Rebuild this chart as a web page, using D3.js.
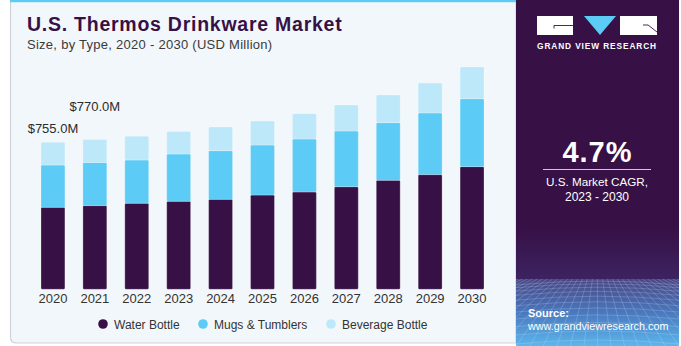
<!DOCTYPE html>
<html>
<head>
<meta charset="utf-8">
<script src="https://cdn.jsdelivr.net/npm/d3@7"></script>
<style>
  html, body { margin: 0; padding: 0; background: #ffffff; }
  svg { display: block; }
  text { font-family: "Liberation Sans", Arial, sans-serif; }
</style>
</head>
<body>
<svg id="chart" width="681" height="346"></svg>
<script>
// Market size by product type, USD million
const years = ["2020", "2021", "2022", "2023", "2024", "2025", "2026", "2027", "2028", "2029", "2030"];
const waterBottle     = [421, 430, 442, 452, 462, 484, 500, 527, 560, 589, 630];
const mugsTumblers    = [217, 221, 222, 243, 250, 257, 272, 286, 296, 317, 349];
const beverageBottle  = [117, 119, 122, 115, 122, 123, 130, 134, 142, 153, 163];
const seriesNames = ["Water Bottle", "Mugs & Tumblers", "Beverage Bottle"];
const seriesColors = ["#371146", "#5ccbf6", "#bde8f9"];
// Totals called out above the first two bars
const callouts = [{ year: "2020", text: "$755.0M", lift: 9 }, { year: "2021", text: "$770.0M", lift: 28 }];

const svg = d3.select("#chart");
const defs = svg.append("defs");

// ---- left card ----
const card = svg.append("g");
card.append("path")
  .attr("d", "M10.5,0 L10.5,337 Q10.5,343 16.5,343 L516,343 L516,0 Z")
  .attr("fill", "#f2f7fb")
  .attr("stroke", "#cfd3d7")
  .attr("stroke-width", 1.2);
card.append("rect").attr("x", 10).attr("y", 0).attr("width", 506).attr("height", 2.2).attr("fill", "#5ccbf6");

card.append("text")
  .attr("x", 27).attr("y", 31)
  .attr("font-size", 19.5).attr("font-weight", 900)
  .attr("letter-spacing", 0.75)
  .attr("fill", "#371146")
  .text("U.S. Thermos Drinkware Market");
card.append("text")
  .attr("x", 27).attr("y", 49)
  .attr("font-size", 13).attr("fill", "#3a3a3a")
  .attr("letter-spacing", 0.27)
  .text("Size, by Type, 2020 - 2030 (USD Million)");

// ---- stacked bars ----
const table = years.map((y, i) => ({
  year: y,
  "Water Bottle": waterBottle[i],
  "Mugs & Tumblers": mugsTumblers[i],
  "Beverage Bottle": beverageBottle[i]
}));
const stacked = d3.stack().keys(seriesNames)(table);

const x = d3.scaleBand().domain(years).range([32, 493]).paddingInner(0.43).paddingOuter(0.215);
const y = d3.scaleLinear().domain([0, 1000]).range([289.3, 94.6]);
const color = d3.scaleOrdinal().domain(seriesNames).range(seriesColors);

const barsG = svg.append("g");
barsG.selectAll("g.series")
  .data(stacked)
  .join("g")
  .attr("class", "series")
  .attr("fill", d => color(d.key))
  .selectAll("rect")
  .data(d => d)
  .join("rect")
  .attr("x", d => x(d.data.year))
  .attr("width", x.bandwidth())
  .attr("y", d => y(d[1]))
  .attr("height", d => y(d[0]) - y(d[1]))
  .attr("rx", 1.2)
  .attr("stroke", "#ffffff")
  .attr("stroke-opacity", 0.35)
  .attr("stroke-width", 0.7);

// year axis
const xAxis = svg.append("g")
  .attr("transform", "translate(0,290)")
  .call(d3.axisBottom(x).tickSize(0).tickPadding(4));
xAxis.select(".domain").remove();
xAxis.selectAll("text")
  .attr("font-size", 13)
  .attr("fill", "#333333")
  .attr("font-family", "\"Liberation Sans\", Arial, sans-serif");

// total callouts
const totals = years.map((yr, i) => waterBottle[i] + mugsTumblers[i] + beverageBottle[i]);
svg.append("g").selectAll("text")
  .data(callouts)
  .join("text")
  .attr("x", d => x(d.year) + x.bandwidth() / 2)
  .attr("y", d => y(totals[years.indexOf(d.year)]) - d.lift)
  .attr("text-anchor", "middle")
  .attr("font-size", 13)
  .attr("fill", "#2b2b2b")
  .text(d => d.text);

// legend
const legendX = [103, 203, 331];
const legend = svg.append("g").selectAll("g")
  .data(seriesNames)
  .join("g")
  .attr("transform", (d, i) => `translate(${legendX[i]},324)`);
legend.append("circle").attr("r", 4.8).attr("fill", d => color(d));
legend.append("text")
  .attr("x", 11).attr("y", 4.5)
  .attr("font-size", 12).attr("fill", "#333333")
  .text(d => d);

// ---- right panel ----
const panelX = 516, panelW = 163, horizon = 279;
const grad = defs.append("linearGradient").attr("id", "panelGrad").attr("x1", 0).attr("y1", 0).attr("x2", 0).attr("y2", 1);
grad.append("stop").attr("offset", "0").attr("stop-color", "#371146");
grad.append("stop").attr("offset", "0.66").attr("stop-color", "#371146");
grad.append("stop").attr("offset", "0.80").attr("stop-color", "#3c2260");
grad.append("stop").attr("offset", "1").attr("stop-color", "#3c2260");
const floorGrad = defs.append("linearGradient").attr("id", "floorGrad").attr("x1", 0).attr("y1", 0).attr("x2", 0).attr("y2", 1);
floorGrad.append("stop").attr("offset", "0").attr("stop-color", "#4a4684");
floorGrad.append("stop").attr("offset", "0.5").attr("stop-color", "#4a78bd");
floorGrad.append("stop").attr("offset", "1").attr("stop-color", "#5cb6ec");

const panel = svg.append("g");
panel.append("rect").attr("x", panelX).attr("y", 0).attr("width", panelW).attr("height", 346).attr("fill", "url(#panelGrad)");
panel.append("rect").attr("x", panelX).attr("y", horizon).attr("width", panelW).attr("height", 346 - horizon).attr("fill", "url(#floorGrad)");

// perspective grid on the floor
const clip = defs.append("clipPath").attr("id", "gridClip");
clip.append("rect").attr("x", panelX).attr("y", horizon).attr("width", panelW).attr("height", 346 - horizon);
const grid = panel.append("g").attr("clip-path", "url(#gridClip)")
  .attr("stroke", "#cfe6ff").attr("fill", "none").attr("stroke-width", 0.5).attr("stroke-opacity", 0.45);
d3.range(-16, 17).forEach(k => {
  grid.append("path").attr("d", `M${panelX + panelW / 2 + k * 5},${horizon} Q${panelX + panelW / 2 + k * 9},305 ${panelX + panelW / 2 + k * 14},350`);
});
d3.range(0, 13).forEach(k => {
  const yy = horizon + 2 + k * k * 0.35 + k * 2.4;
  grid.append("path").attr("d", `M${panelX},${yy + 4} Q${panelX + panelW / 2},${yy - 4} ${panelX + panelW},${yy + 4}`);
});

// logo
const logo = panel.append("g");
logo.append("rect").attr("x", 537).attr("y", 16).attr("width", 36).attr("height", 19).attr("fill", "#ffffff");
logo.append("path").attr("d", "M554,25.5 L573,25.5 M554,25.5 L554,28.5").attr("stroke", "#371146").attr("stroke-width", 0.9).attr("fill", "none");
logo.append("path").attr("d", "M584,16 L616,16 L600,35 Z").attr("fill", "#5ccbf6");
logo.append("rect").attr("x", 620).attr("y", 16).attr("width", 37).attr("height", 19).attr("fill", "#ffffff");
logo.append("path").attr("d", "M643,25 L648,25 L657,32").attr("stroke", "#371146").attr("stroke-width", 0.9).attr("fill", "none");
panel.append("text")
  .attr("x", 597).attr("y", 49)
  .attr("text-anchor", "middle")
  .attr("font-size", 8.3).attr("font-weight", 700)
  .attr("letter-spacing", 0.9)
  .attr("fill", "#ffffff")
  .text("GRAND VIEW RESEARCH");

// CAGR block
panel.append("text")
  .attr("x", 597.5).attr("y", 162)
  .attr("text-anchor", "middle")
  .attr("font-size", 29).attr("font-weight", 700)
  .attr("letter-spacing", 1)
  .attr("fill", "#ffffff")
  .text("4.7%");
panel.append("line")
  .attr("x1", 543).attr("x2", 651).attr("y1", 169.5).attr("y2", 169.5)
  .attr("stroke", "#cfc6d6").attr("stroke-width", 1);
panel.append("text")
  .attr("x", 597).attr("y", 186)
  .attr("text-anchor", "middle")
  .attr("font-size", 11.7).attr("fill", "#ffffff")
  .text("U.S. Market CAGR,");
panel.append("text")
  .attr("x", 597).attr("y", 201)
  .attr("text-anchor", "middle")
  .attr("font-size", 12).attr("fill", "#ffffff")
  .text("2023 - 2030");

// source
panel.append("text")
  .attr("x", 528).attr("y", 317)
  .attr("font-size", 11).attr("font-weight", 700)
  .attr("fill", "#ffffff")
  .text("Source:");
panel.append("text")
  .attr("x", 528).attr("y", 330)
  .attr("font-size", 10.8)
  .attr("fill", "#ffffff")
  .text("www.grandviewresearch.com");
</script>
</body>
</html>
